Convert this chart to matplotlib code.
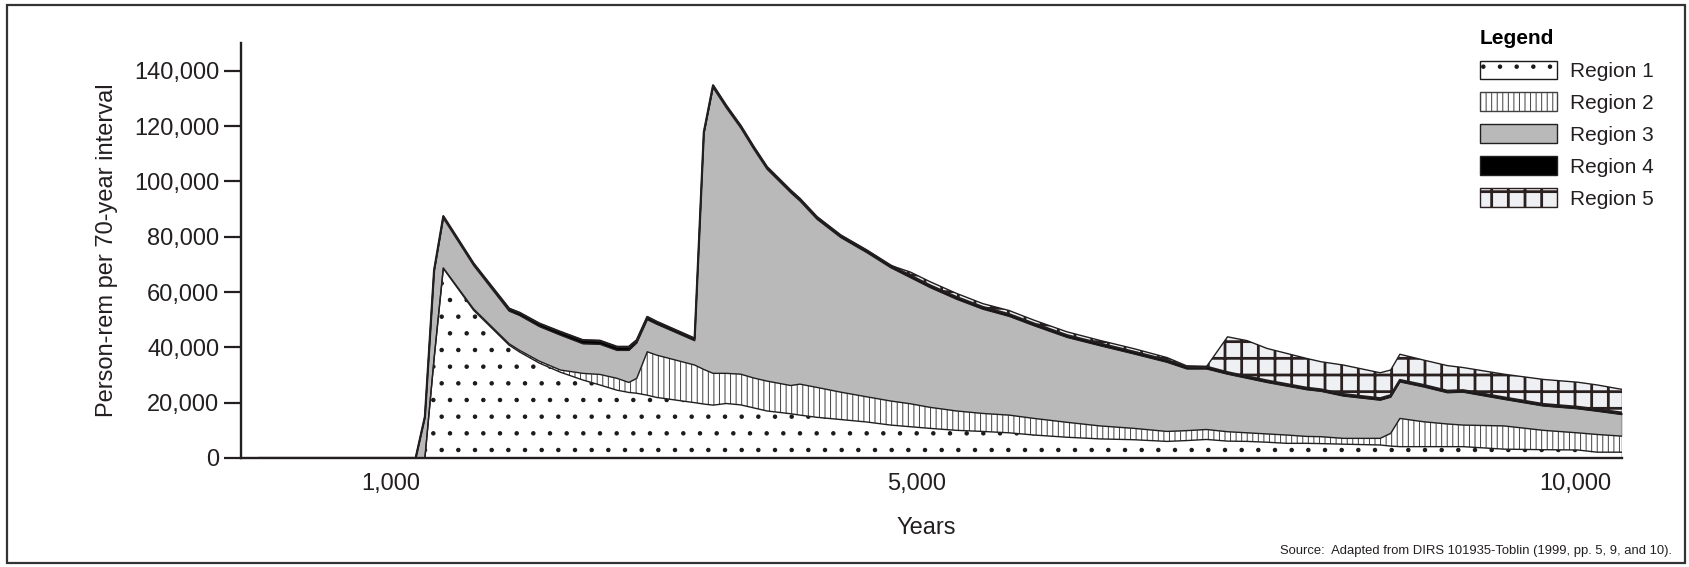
import numpy as np
import matplotlib
matplotlib.use("Agg")
import matplotlib.pyplot as plt
from matplotlib.patches import Patch, Rectangle
from matplotlib.legend_handler import HandlerPatch
from matplotlib.ticker import FuncFormatter

# Years at which the stacked outline changes direction
years = [0, 1190, 1260, 1330, 1400, 1630, 1900, 1980, 2130, 2290,
         2460, 2590, 2720, 2810, 2870, 2950, 3020, 3310, 3380, 3450,
         3550, 3660, 3760, 3860, 4040, 4110, 4240, 4420, 4620, 4800,
         4950, 5100, 5300, 5500, 5700, 5890, 6140, 6390, 6650, 6900,
         7050, 7200, 7360, 7510, 7660, 7810, 7960, 8070, 8240, 8520,
         8600, 8670, 8850, 9030, 9150, 9460, 9760, 10020, 10170, 10358]

# Person-rem per 70-year interval, one list per region (stacked bottom to top)
region1 = [0, 0, 0, 36000, 68500, 53400, 40800, 38300, 34300, 31000,
           28200, 26400, 24500, 23700, 23400, 22700, 21900, 20000, 19500, 19100,
           19700, 19200, 18100, 17000, 16000, 15500, 14700, 13900, 13000, 11900,
           11300, 10700, 10000, 9600, 9100, 8300, 7500, 6900, 6600, 6000,
           6300, 6700, 6100, 6000, 5700, 5300, 5300, 5200, 5000, 4700,
           4300, 4100, 4100, 4100, 4100, 3200, 3000, 2900, 2100, 2100]
region2 = [0, 0, 0, 0, 200, 500, 500, 600, 700, 800,
           2400, 3800, 4300, 3600, 5400, 15700, 15300, 13600, 12500, 11500,
           10900, 11100, 10800, 10800, 10200, 11200, 10800, 9900, 9100, 8700,
           8300, 7600, 7000, 6500, 6400, 6000, 5400, 4700, 4100, 3600,
           3600, 3600, 3400, 3100, 3000, 3000, 2500, 2500, 2100, 2400,
           4600, 10200, 9000, 8200, 7800, 8400, 7000, 6200, 6400, 5800]
region3 = [0, 0, 14600, 31300, 18000, 15700, 11800, 12600, 12500, 12600,
           10700, 10900, 10100, 11600, 12800, 11600, 11200, 8800, 85000, 103300,
           96000, 89000, 82700, 76600, 69700, 66200, 60800, 55900, 52100, 48200,
           45600, 43300, 40400, 37700, 35700, 33500, 30700, 29000, 26900, 25000,
           22300, 21900, 20800, 19700, 18600, 17700, 16900, 16400, 15300, 13800,
           13100, 13200, 12600, 11300, 11900, 9600, 8800, 8700, 8400, 7800]
region4 = [0, 0, 300, 600, 700, 700, 900, 1000, 1100, 1200,
           1300, 1300, 1300, 1300, 1000, 1000, 900, 800, 800, 800,
           800, 800, 800, 800, 800, 800, 800, 800, 800, 800,
           800, 800, 800, 800, 800, 800, 800, 800, 800, 800,
           800, 800, 700, 700, 700, 700, 700, 700, 700, 700,
           700, 700, 700, 700, 700, 700, 700, 700, 700, 700]
region5 = [0, 0, 0, 0, 0, 0, 0, 0, 0, 0,
           0, 0, 0, 0, 0, 0, 0, 0, 0, 0,
           0, 0, 0, 0, 0, 0, 0, 0, 0, 0,
           1200, 1300, 1300, 1200, 1300, 1200, 1200, 1100, 1100, 900,
           300, 0, 12800, 12900, 11600, 11100, 10600, 10000, 10500, 9200,
           9100, 9300, 9000, 9100, 8200, 8400, 8900, 8900, 8800, 8400]

region_names = ["Region 1", "Region 2", "Region 3", "Region 4", "Region 5"]
x_ticks = [1000, 5000, 10000]
y_ticks = [0, 20000, 40000, 60000, 80000, 100000, 120000, 140000]

ink = "#231f20"

# face colour, hatch colour, hatch, hatch line width
styles = [
    ("white", "#1a1a1a", ".", 0.8),
    ("white", "#404040", "|||", 0.7),
    ("#b9b9b9", "#b9b9b9", None, 1.0),
    ("black", "black", None, 1.0),
    ("#eff0f3", "#2a2020", "+", 2.0),
]

plt.rcParams["font.family"] = ["Liberation Sans", "DejaVu Sans"]


def apply_hatch_lw(artist, lw):
    # per-artist hatch width when the matplotlib version allows it
    if hasattr(artist, "set_hatch_linewidth"):
        artist.set_hatch_linewidth(lw)


class HatchHandler(HandlerPatch):
    # legend boxes keep the hatch width of their own region
    def create_artists(self, legend, orig_handle, xdescent, ydescent,
                       width, height, fontsize, trans):
        lw = getattr(orig_handle, "hatch_lw", 1.0)
        with plt.rc_context({"hatch.linewidth": lw}):
            arts = super().create_artists(legend, orig_handle, xdescent,
                                          ydescent, width, height, fontsize,
                                          trans)
        for a in arts:
            apply_hatch_lw(a, lw)
        return arts


fig = plt.figure(figsize=(16.9, 5.67), dpi=100)
ax = fig.add_axes([240.7 / 1690, 109 / 567, 1381.3 / 1690, 415 / 567])

stack = np.vstack([region1, region2, region3, region4, region5])
tops = np.cumsum(stack, axis=0)
bottoms = tops - stack

handles = []
for i, (face, hcol, hatch, hlw) in enumerate(styles):
    with plt.rc_context({"hatch.linewidth": hlw}):
        poly = ax.fill_between(years, bottoms[i], tops[i], facecolor=face,
                               edgecolor=hcol, hatch=hatch, linewidth=0,
                               zorder=1)
        apply_hatch_lw(poly, hlw)
        h = Patch(facecolor=face, edgecolor=hcol if hatch else ink,
                  hatch=hatch, linewidth=1.0)
    h.hatch_lw = hlw
    handles.append(h)

# outlines of each stacked layer
for i in range(len(styles)):
    lw = 1.6 if i == 3 else 1.0
    ax.plot(years, tops[i], color=ink, lw=lw, zorder=2)
ax.plot([years[-1], years[-1]], [0, tops[-1][-1]], color=ink, lw=1.0, zorder=2)

ax.set_xlim(-140, years[-1])
ax.set_ylim(0, 150000)

ax.set_xticks(x_ticks)
ax.set_yticks(y_ticks)
fmt = FuncFormatter(lambda v, p: f"{v:,.0f}")
ax.xaxis.set_major_formatter(fmt)
ax.yaxis.set_major_formatter(fmt)
ax.tick_params(axis="y", direction="out", length=12, width=1.6, pad=3.5,
               labelsize=17, colors=ink)
ax.tick_params(axis="x", length=0, pad=11, labelsize=17, colors=ink)

for side in ("top", "right"):
    ax.spines[side].set_visible(False)
for side in ("left", "bottom"):
    ax.spines[side].set_linewidth(1.7)
    ax.spines[side].set_color(ink)

ax.set_ylabel("Person-rem per 70-year interval", fontsize=17, color=ink)
ax.yaxis.set_label_coords(-0.089, 0.5)
ax.set_xlabel("Years", fontsize=17, color=ink)
ax.xaxis.set_label_coords(0.496, -0.141)

leg = ax.legend(handles, region_names, title="Legend",
                title_fontproperties={"weight": "bold", "size": 15},
                fontsize=15, frameon=False, loc="upper left",
                bbox_to_anchor=(1480 / 1690, 1 - 29 / 567),
                bbox_transform=fig.transFigure, borderaxespad=0, borderpad=0,
                handlelength=3.7, handleheight=1.0, handletextpad=0.6,
                labelspacing=0.55, alignment="left",
                handler_map={Patch: HatchHandler()})
for t in leg.get_texts():
    t.set_color(ink)
leg._legend_box.sep = 9

fig.text(1672 / 1690, 1 - 551 / 567,
         "Source:  Adapted from DIRS 101935-Toblin (1999, pp. 5, 9, and 10).",
         ha="right", va="center", fontsize=9.4, color=ink)

# thin frame round the whole figure
fig.add_artist(Rectangle((7 / 1690, 4 / 567), 1678 / 1690, 558 / 567,
                         transform=fig.transFigure, fill=False,
                         linewidth=1.6, edgecolor="#333333"))

fig.savefig("out.png", dpi=100)
